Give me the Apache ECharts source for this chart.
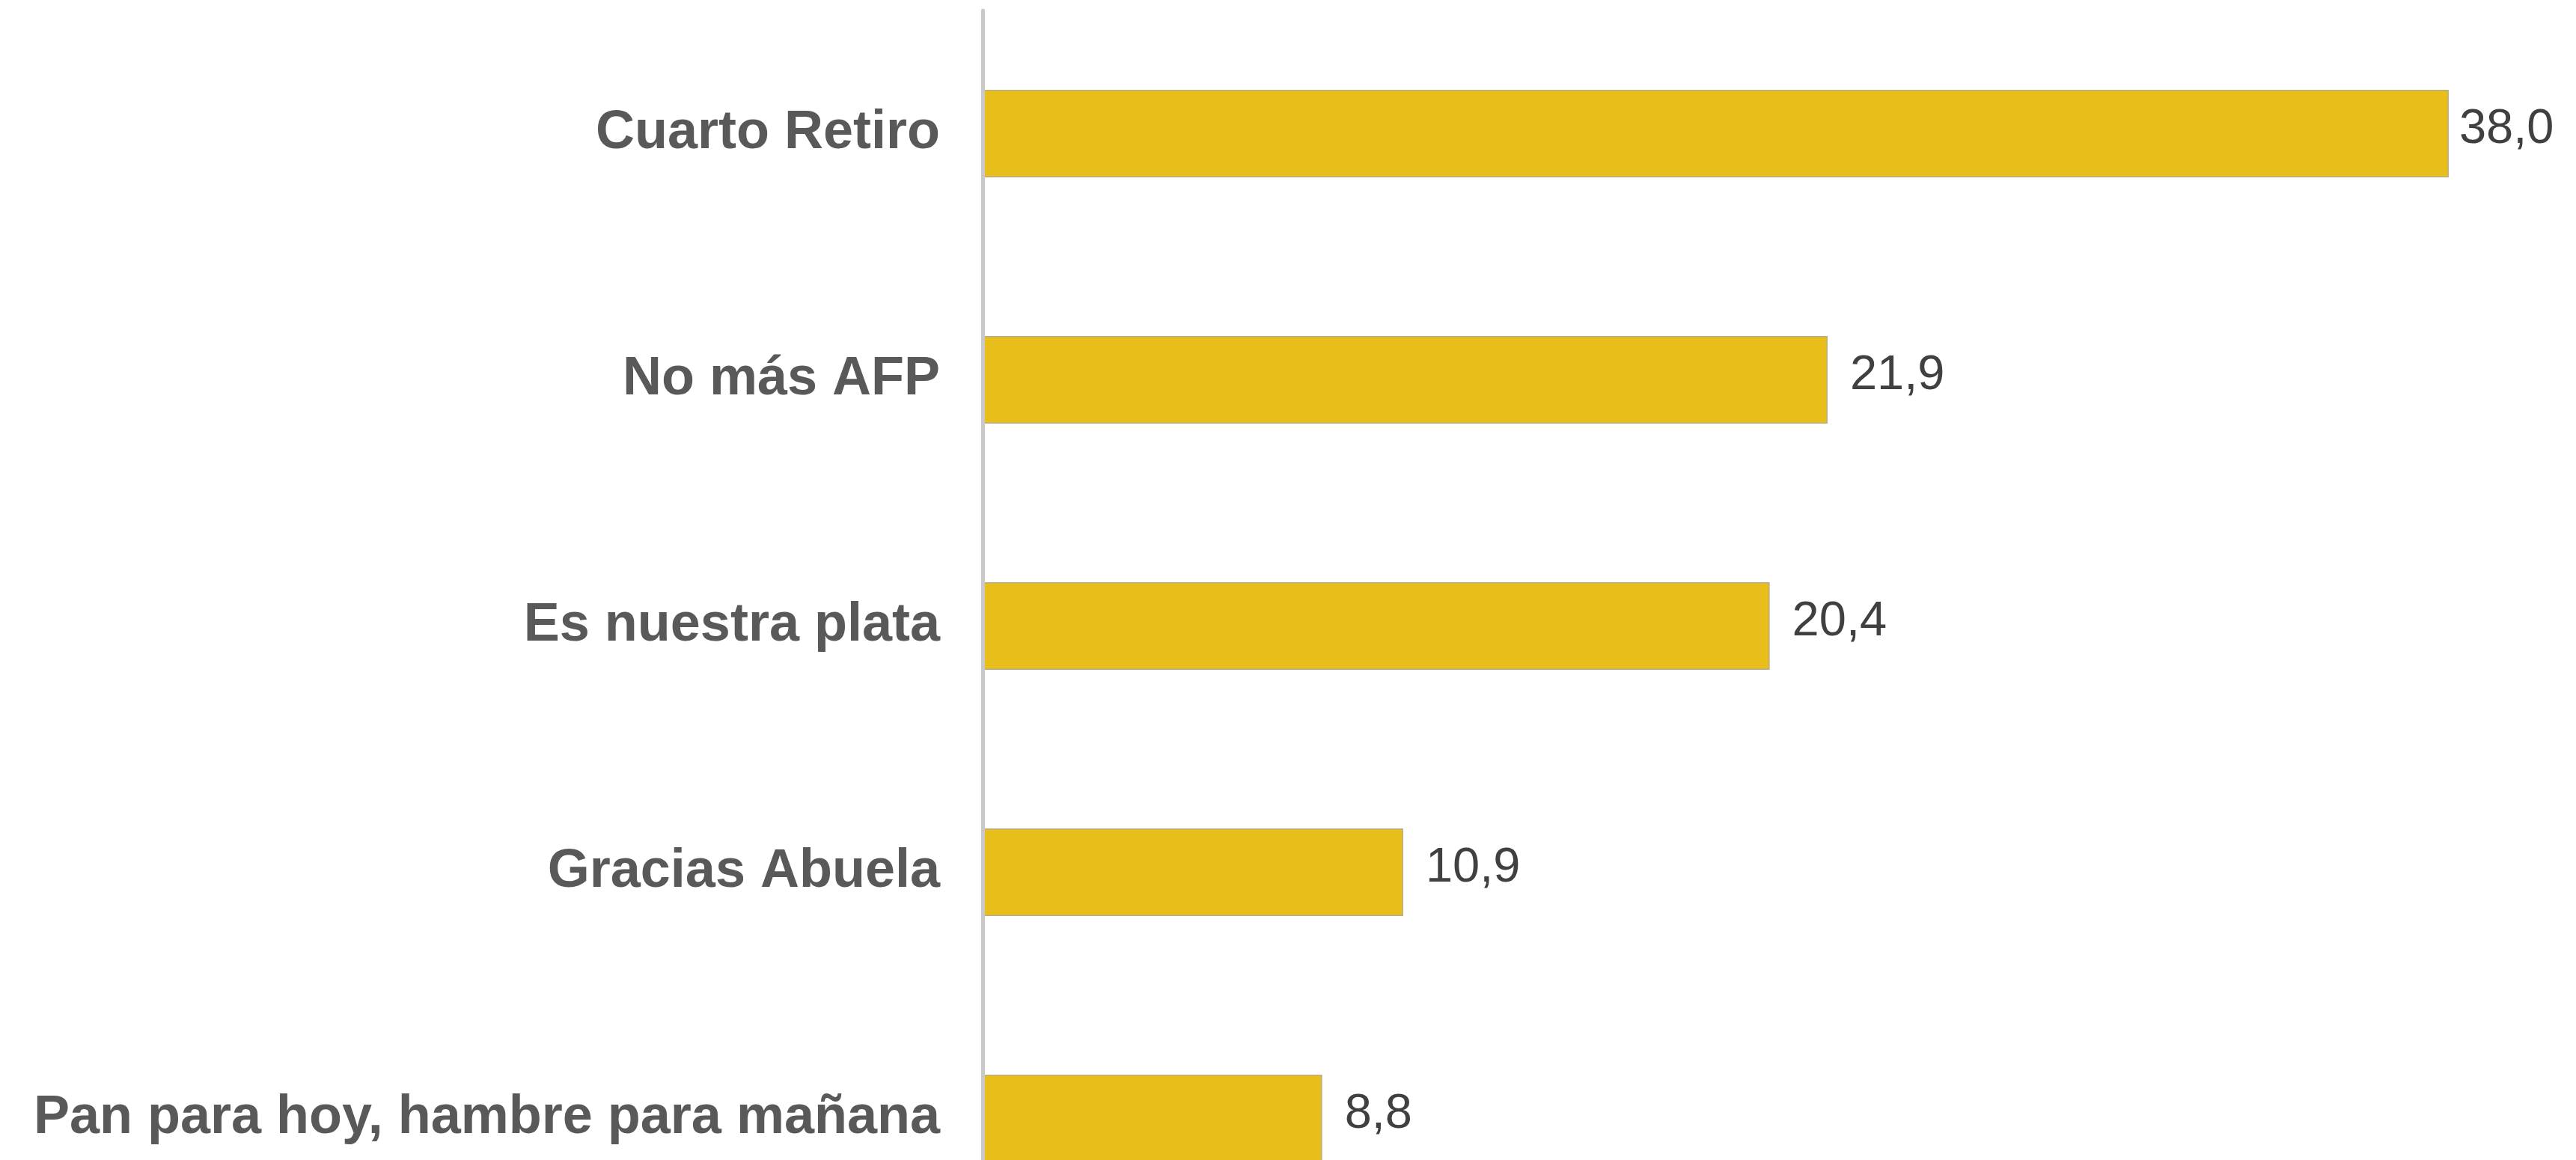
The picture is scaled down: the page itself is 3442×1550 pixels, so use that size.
<!DOCTYPE html>
<html>
<head>
<meta charset="utf-8">
<script src="https://cdn.jsdelivr.net/npm/echarts@6/dist/echarts.min.js"></script>
<style>
  html, body { margin: 0; padding: 0; background: #fff; }
  #container { width: 3442px; height: 1550px; }
</style>
</head>
<body>
<div id="container"></div>
<script>
var categories = ["Cuarto Retiro", "No más AFP", "Es nuestra plata", "Gracias Abuela", "Pan para hoy, hambre para mañana"];
var values = [38.0, 21.9, 20.4, 10.9, 8.8];

var dom = document.getElementById("container");
var myChart = echarts.init(dom);

var barData = values.map(function (v, i) {
  var item = { value: v };
  // the longest bar keeps its label closer so it fits in the frame
  if (i === 0) item.label = { distance: 14 };
  return item;
});

var option = {
  backgroundColor: "#ffffff",
  animation: false,
  grid: {
    left: 1313,
    top: 14,
    width: 2062,
    height: 1645,
    outerBoundsMode: "none",
    containLabel: false
  },
  xAxis: {
    type: "value",
    min: 0,
    max: 40,
    show: false,
    splitLine: { show: false }
  },
  yAxis: {
    type: "category",
    data: categories,
    inverse: true,
    z: 5,
    axisLine: {
      show: true,
      lineStyle: { color: "#c9c9c9", width: 5 }
    },
    axisTick: { show: false },
    splitLine: { show: false },
    axisLabel: {
      margin: 57,
      fontSize: 72,
      fontWeight: "bold",
      fontFamily: "Liberation Sans, Arial, sans-serif",
      color: "#595959",
      padding: [0, 0, 12, 0]
    }
  },
  series: [{
    type: "bar",
    data: barData,
    barWidth: 117,
    itemStyle: {
      color: "#e8be1b",
      borderColor: "#b9ab85",
      borderWidth: 1.5
    },
    label: {
      show: true,
      position: "right",
      distance: 30,
      offset: [0, -5],
      fontSize: 65,
      fontFamily: "Liberation Sans, Arial, sans-serif",
      color: "#404040",
      formatter: function (p) {
        return p.value.toFixed(1).replace(".", ",");
      }
    }
  }]
};

myChart.setOption(option);
</script>
</body>
</html>
